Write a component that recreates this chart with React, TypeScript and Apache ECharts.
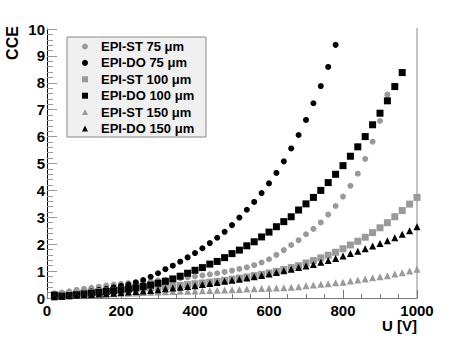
import React, { useEffect, useRef } from "react";
import * as echarts from "echarts";

const VOLTAGES = [
  20, 40, 60, 80, 100, 120, 140, 160, 180, 200, 220, 240, 260, 280, 300, 320, 340, 360, 380, 400,
  420, 440, 460, 480, 500, 520, 540, 560, 580, 600, 620, 640, 660, 680, 700, 720, 740, 760, 780, 800,
  820, 840, 860, 880, 900, 920, 940, 960, 980, 1000,
];

const EPI_ST_75 = [
  0.18, 0.2, 0.25, 0.3, 0.34, 0.38, 0.42, 0.46, 0.5, 0.53,
  0.55, 0.57, 0.6, 0.62, 0.65, 0.68, 0.71, 0.74, 0.77, 0.8,
  0.84, 0.88, 0.92, 0.97, 1.02, 1.08, 1.14, 1.22, 1.32, 1.44,
  1.6, 1.78, 1.97, 2.15, 2.37, 2.57, 2.81, 3.1, 3.42, 3.77,
  4.17, 4.62, 5.17, 5.81, 6.58, 7.56,
];
const EPI_DO_75 = [
  0.15, 0.05, 0.12, 0.18, 0.22, 0.26, 0.3, 0.34, 0.4, 0.45,
  0.5, 0.58, 0.67, 0.79, 0.92, 1.07, 1.2, 1.35, 1.51, 1.67,
  1.85, 2.04, 2.24, 2.46, 2.71, 2.99, 3.28, 3.57, 3.9, 4.26,
  4.65, 5.08, 5.56, 6.06, 6.62, 7.24, 7.88, 8.59, 9.41,
];
const EPI_ST_100 = [
  0.12, 0.12, 0.14, 0.17, 0.2, 0.22, 0.24, 0.26, 0.28, 0.3,
  0.32, 0.34, 0.36, 0.38, 0.4, 0.42, 0.45, 0.47, 0.5, 0.53,
  0.56, 0.59, 0.62, 0.66, 0.7, 0.74, 0.78, 0.83, 0.88, 0.93,
  0.99, 1.06, 1.13, 1.2, 1.3, 1.39, 1.49, 1.59, 1.7, 1.83,
  1.97, 2.11, 2.26, 2.43, 2.61, 2.8, 3.02, 3.25, 3.49, 3.74,
];
const EPI_DO_100 = [
  0.1, 0.07, 0.09, 0.12, 0.15, 0.18, 0.21, 0.24, 0.27, 0.3,
  0.34, 0.38, 0.43, 0.48, 0.55, 0.62, 0.71, 0.81, 0.92, 1.03,
  1.13, 1.26, 1.36, 1.5, 1.65, 1.78, 1.94, 2.09, 2.27, 2.45,
  2.65, 2.84, 3.02, 3.27, 3.5, 3.74, 4.0, 4.29, 4.6, 4.92,
  5.27, 5.62, 6.0, 6.44, 6.87, 7.33, 7.86, 8.38,
];
const EPI_ST_150 = [
  0.05, 0.06, 0.08, 0.1, 0.12, 0.13, 0.14, 0.15, 0.16, 0.17,
  0.18, 0.19, 0.2, 0.21, 0.22, 0.23, 0.24, 0.25, 0.25, 0.26,
  0.27, 0.28, 0.29, 0.3, 0.31, 0.32, 0.33, 0.34, 0.35, 0.36,
  0.37, 0.38, 0.4, 0.42, 0.46, 0.48, 0.51, 0.53, 0.57, 0.59,
  0.63, 0.67, 0.71, 0.75, 0.79, 0.83, 0.89, 0.94, 1.0, 1.07,
];
const EPI_DO_150 = [
  0.05, 0.06, 0.08, 0.1, 0.12, 0.13, 0.15, 0.16, 0.18, 0.2,
  0.22, 0.24, 0.26, 0.28, 0.31, 0.34, 0.37, 0.4, 0.43, 0.46,
  0.5, 0.54, 0.58, 0.62, 0.66, 0.7, 0.74, 0.79, 0.84, 0.89,
  0.95, 1.01, 1.07, 1.13, 1.19, 1.25, 1.33, 1.39, 1.47, 1.56,
  1.65, 1.74, 1.83, 1.93, 2.03, 2.13, 2.24, 2.37, 2.5, 2.65,
];

const SERIES_NAMES = [
  "EPI-ST 75 μm",
  "EPI-DO 75 μm",
  "EPI-ST 100 μm",
  "EPI-DO 100 μm",
  "EPI-ST 150 μm",
  "EPI-DO 150 μm",
];

const FONT = "'Liberation Sans', Arial, Helvetica, sans-serif";
const GRAY = "#9a9a9a";

function pairs(vals: number[]) {
  return vals.map((v, i) => [VOLTAGES[i], v]);
}

export default function App() {
  const ref = useRef<HTMLDivElement>(null);
  useEffect(() => {
    if (!ref.current) return;
    const chart = echarts.init(ref.current, undefined, { renderer: "svg" });
    const defs = [
      { data: EPI_ST_75, symbol: "circle", size: 6, color: GRAY },
      { data: EPI_DO_75, symbol: "circle", size: 6, color: "#000" },
      { data: EPI_ST_100, symbol: "rect", size: 7, color: GRAY },
      { data: EPI_DO_100, symbol: "rect", size: 7, color: "#000" },
      { data: EPI_ST_150, symbol: "triangle", size: 7, color: GRAY },
      { data: EPI_DO_150, symbol: "triangle", size: 7, color: "#000" },
    ];
    chart.setOption({
      animation: false,
      grid: { left: 47, right: 46, top: 29, bottom: 42 },
      xAxis: {
        type: "value",
        min: 0,
        max: 1000,
        interval: 200,
        axisLine: { show: true, lineStyle: { color: "#777", width: 1 } },
        axisTick: { show: true, inside: true, length: 8, lineStyle: { color: "#777" } },
        minorTick: { show: true, splitNumber: 4, length: 4, lineStyle: { color: "#777" } },
        splitLine: { show: false },
        axisLabel: {
          margin: 5,
          fontFamily: FONT,
          fontWeight: "bold",
          fontSize: 15,
          color: "#000",
          formatter: (v: number) => String(v),
        },
      },
      yAxis: {
        type: "value",
        min: 0,
        max: 10,
        interval: 1,
        axisLine: { show: true, lineStyle: { color: "#000", width: 1 } },
        axisTick: { show: true, inside: true, length: 10, lineStyle: { color: "#999" } },
        minorTick: { show: true, splitNumber: 5, length: 6, lineStyle: { color: "#999" } },
        splitLine: { show: false },
        axisLabel: {
          margin: 2,
          fontFamily: FONT,
          fontWeight: "bold",
          fontSize: 15,
          color: "#000",
        },
      },
      legend: {
        orient: "vertical",
        left: 82,
        top: 40,
        itemGap: 3.4,
        itemWidth: 6,
        itemHeight: 6,
        selectedMode: false,
        padding: 0,
        textStyle: {
          fontFamily: FONT,
          fontWeight: "bold",
          fontSize: 13,
          lineHeight: 13,
          color: "#000",
          padding: [0, 0, 0, 8],
        },
        data: SERIES_NAMES,
      },
      graphic: [
        {
          type: "rect",
          shape: { x: 67, y: 37, width: 139, height: 100 },
          style: { fill: "#f0f0f0", stroke: "#888", lineWidth: 1 },
          z: -1,
          silent: true,
        },
        {
          type: "line",
          shape: { x1: 417, y1: 28, x2: 417, y2: 298 },
          style: { stroke: "#888", lineWidth: 1 },
          silent: true,
        },
        {
          type: "text",
          x: 12,
          y: 43,
          rotation: Math.PI / 2,
          style: {
            text: "CCE",
            fontFamily: FONT,
            fontWeight: "bold",
            fontSize: 16,
            fill: "#000",
            align: "center",
            verticalAlign: "middle",
          },
        },
        {
          type: "text",
          x: 417,
          y: 325,
          style: {
            text: "U [V]",
            fontFamily: FONT,
            fontWeight: "bold",
            fontSize: 15,
            fill: "#000",
            align: "right",
            verticalAlign: "middle",
          },
        },
      ],
      series: defs.map((d, i) => ({
        type: "scatter",
        name: SERIES_NAMES[i],
        symbol: d.symbol,
        symbolSize: d.size,
        itemStyle: { color: d.color, opacity: 1 },
        data: pairs(d.data),
        z: 2 + i,
      })),
    });
    return () => chart.dispose();
  }, []);
  return (
    <div
      ref={ref}
      style={{ position: "fixed", left: 0, top: 0, width: 463, height: 340, background: "#fff" }}
    />
  );
}
